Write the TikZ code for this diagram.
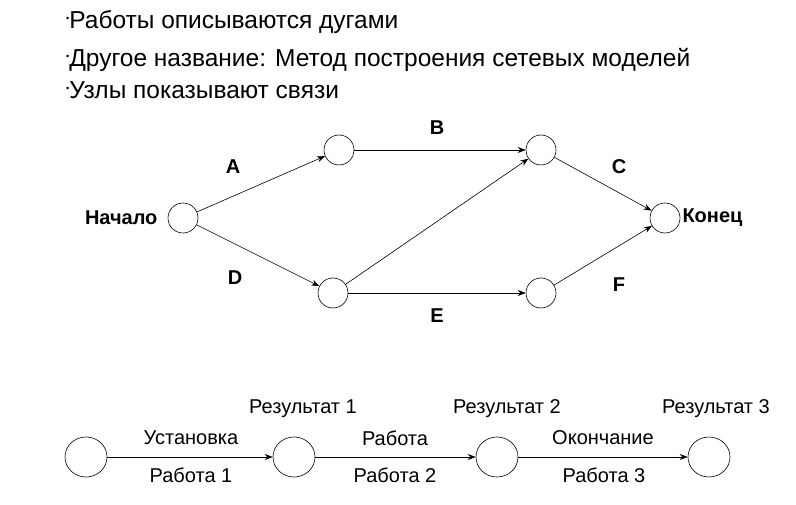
\documentclass[tikz,border=0pt]{standalone}
\usepackage{fontspec}
\setmainfont{Liberation Sans}
\usetikzlibrary{arrows.meta,shapes.geometric}
\begin{document}
\begin{tikzpicture}[x=1pt,y=-1pt,
  nd/.style={circle,draw,semithick,minimum size=30pt,inner sep=0pt},
  bn/.style={ellipse,draw,semithick,minimum width=42pt,minimum height=40pt,inner sep=0pt},
  ar/.style={-{Stealth[length=8pt,width=6pt]},semithick},
  lb/.style={font=\fontsize{20}{22}\selectfont\bfseries},
  bl/.style={font=\fontsize{20}{22}\selectfont},
  bt/.style={anchor=west,font=\fontsize{24.5}{26}\selectfont,inner sep=0pt}]
\useasboundingbox (0,0) rectangle (796,505);
\node[bt] (t1) at (66,22) {\raisebox{7pt}{\small•}Работы описываются дугами};
\node[bt] (t2) at (66,60) {\raisebox{7pt}{\small•}Другое название: Метод построения сетевых моделей};
\node[bt] (t3) at (66,90) {\raisebox{7pt}{\small•}Узлы показывают связи};
\node[nd] (s) at (183,218) {};
\node[nd] (a) at (339,150) {};
\node[nd] (b) at (541,150) {};
\node[nd] (e) at (665,218) {};
\node[nd] (d) at (333,293) {};
\node[nd] (f) at (541,293) {};
\draw[ar] (s) -- (a); \draw[ar] (a) -- (b); \draw[ar] (b) -- (e);
\draw[ar] (s) -- (d); \draw[ar] (d) -- (f); \draw[ar] (f) -- (e);
\draw[ar] (d) -- (b);
\node[lb,anchor=east] (ls) at (161,218) {Начало};
\node[lb,anchor=west] (le) at (679,218) {Конец};
\node[lb] (lA) at (233,167) {A};
\node[lb] (lB) at (437,128) {B};
\node[lb] (lC) at (619,167) {C};
\node[lb] (lD) at (235,278) {D};
\node[lb] (lE) at (437,316) {E};
\node[lb] (lF) at (619,285) {F};
\node[bn] (p0) at (86,457) {};
\node[bn] (p1) at (294,457) {};
\node[bn] (p2) at (497,457) {};
\node[bn] (p3) at (709,457) {};
\draw[ar] (p0) -- (p1); \draw[ar] (p1) -- (p2); \draw[ar] (p2) -- (p3);
\node[bl] (u1) at (191,438) {Установка};
\node[bl] (w1) at (191,475) {Работа 1};
\node[bl] (r1) at (303,409) {Результат 1};
\node[bl] (u2) at (395,438) {Работа};
\node[bl] (w2) at (395,475) {Работа 2};
\node[bl] (r2) at (507,409) {Результат 2};
\node[bl] (u3) at (603,438) {Окончание};
\node[bl] (w3) at (604,475) {Работа 3};
\node[bl] (r3) at (716,409) {Результат 3};
\end{tikzpicture}
\end{document}
